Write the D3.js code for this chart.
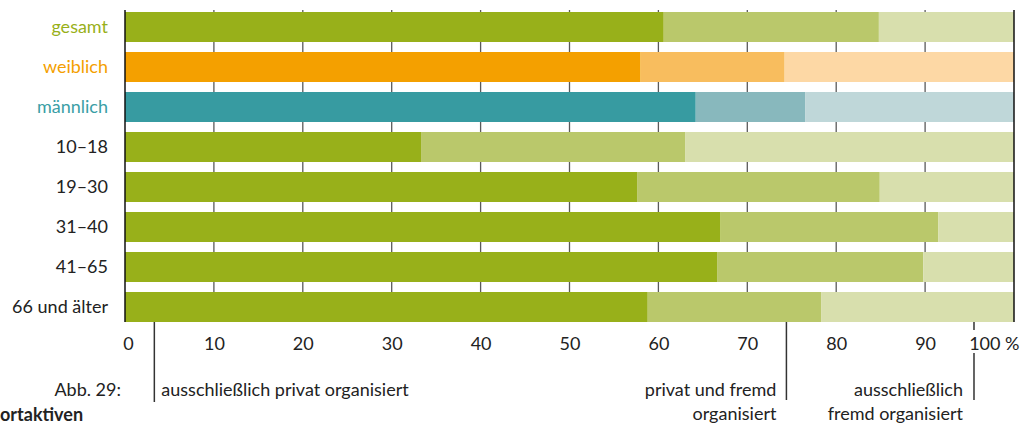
<!DOCTYPE html>
<html>
<head>
<meta charset="utf-8">
<script src="https://cdn.jsdelivr.net/npm/d3@7"></script>
<style>
  html, body { margin: 0; padding: 0; background: #fff; overflow: hidden; }
  svg { display: block; }
  text { font-family: "Lato", "Open Sans", sans-serif; }
</style>
</head>
<body>
<svg id="chart" width="1022" height="424"></svg>
<script>
// ---- data ----
const categories = ["gesamt", "weiblich", "männlich", "10–18", "19–30", "31–40", "41–65", "66 und älter"];
const privatOnly   = [60.6, 58.0, 64.2, 33.3, 57.6, 67.0, 66.6, 58.8];
const privatFremd  = [24.2, 16.2, 12.3, 29.7, 27.3, 24.5, 23.2, 19.5];
const fremdOnly    = [15.2, 25.8, 23.5, 37.0, 15.1,  8.5, 10.2, 21.7];
const tickValues   = [0, 10, 20, 30, 40, 50, 60, 70, 80, 90, 100];
const tickLabels   = ["0", "10", "20", "30", "40", "50", "60", "70", "80", "90", "100 %"];
const seriesNames  = ["ausschließlich privat organisiert", "privat und fremd organisiert", "ausschließlich fremd organisiert"];

// ---- styles ----
const palettes = {
  green:  ["#98b01a", "#bac86b", "#d8dfad"],
  orange: ["#f4a000", "#f8bd5e", "#fdd8a5"],
  teal:   ["#379ba1", "#88b8bd", "#bfd7d9"]
};
const labelColors = { "gesamt": "#98b01a", "weiblich": "#f4a000", "männlich": "#3a9ea5" };
const paletteFor = c => c === "weiblich" ? palettes.orange : (c === "männlich" ? palettes.teal : palettes.green);
const FS = 18;

const svg = d3.select("#chart");
const x = d3.scaleLinear().domain([0, 100]).range([125, 1014]);
const y = d3.scaleBand().domain(categories).range([7, 327]).paddingInner(0.25).paddingOuter(0.125);

// gridlines
svg.append("g").selectAll("line")
  .data(tickValues.filter(v => v > 0 && v < 100))
  .join("line")
  .attr("x1", d => x(d)).attr("x2", d => x(d))
  .attr("y1", 10).attr("y2", 322)
  .attr("stroke", "#5a5a5a").attr("stroke-width", 1.3);

// stacked data
const rows = categories.map((c, i) => ({ cat: c, vals: [privatOnly[i], privatFremd[i], fremdOnly[i]] }));
const segs = [];
rows.forEach(r => {
  let acc = 0;
  r.vals.forEach((v, k) => {
    segs.push({ cat: r.cat, k, x0: acc, x1: acc + v });
    acc += v;
  });
});

svg.append("g").selectAll("rect")
  .data(segs)
  .join("rect")
  .attr("x", d => x(d.x0))
  .attr("width", d => Math.max(0, x(Math.min(100, d.x1)) - x(d.x0)))
  .attr("y", d => y(d.cat))
  .attr("height", y.bandwidth())
  .attr("fill", d => paletteFor(d.cat)[d.k]);

// left and right frame lines
svg.append("line").attr("x1", x(0)).attr("x2", x(0)).attr("y1", 10).attr("y2", 322)
  .attr("stroke", "#111").attr("stroke-width", 1.5);
svg.append("line").attr("x1", x(100)).attr("x2", x(100)).attr("y1", 10).attr("y2", 322)
  .attr("stroke", "#111").attr("stroke-width", 1.5);

// category labels
svg.append("g").selectAll("text")
  .data(categories)
  .join("text")
  .attr("x", 108)
  .attr("y", d => y(d) + y.bandwidth() / 2)
  .attr("dy", "0.35em")
  .attr("text-anchor", "end")
  .attr("font-size", FS)
  .attr("fill", d => labelColors[d] || "#222")
  .text(d => d);

// x axis labels
const axis = d3.axisBottom(x).tickValues(tickValues)
  .tickFormat((d, i) => tickLabels[i]).tickSize(0).tickPadding(0);
const ax = svg.append("g").attr("transform", "translate(0,332)").call(axis);
ax.select(".domain").remove();
ax.selectAll("text")
  .attr("font-family", "Lato, 'Open Sans', sans-serif")
  .attr("font-size", FS).attr("fill", "#222").attr("dy", "0.98em")
  .attr("text-anchor", d => d === 100 ? "end" : "middle")
  .attr("dx", d => d === 100 ? 5 : (d === 0 ? 3 : 0));

// bracket lines below axis
const brackets = [
  { v: 3.3,  y1: 322, y2: 402 },
  { v: 74.4, y1: 322, y2: 400 },
  { v: 95.5, y1: 322, y2: 400, gap: [330, 353] }
];
brackets.forEach(b => {
  const xx = x(b.v);
  const parts = b.gap ? [[b.y1, b.gap[0]], [b.gap[1], b.y2]] : [[b.y1, b.y2]];
  parts.forEach(p => svg.append("line").attr("x1", xx).attr("x2", xx).attr("y1", p[0]).attr("y2", p[1])
    .attr("stroke", "#333").attr("stroke-width", 1.5));
});

const ann = svg.append("g").attr("font-size", FS).attr("fill", "#222");
ann.append("text").attr("x", x(3.3) + 7).attr("y", 396).text(seriesNames[0]);
ann.append("text").attr("x", x(74.4) - 10).attr("y", 396).attr("text-anchor", "end").text("privat und fremd");
ann.append("text").attr("x", x(74.4) - 10).attr("y", 420).attr("text-anchor", "end").text("organisiert");
ann.append("text").attr("x", x(95.5) - 11).attr("y", 396).attr("text-anchor", "end").text("ausschließlich");
ann.append("text").attr("x", x(95.5) - 11).attr("y", 420).attr("text-anchor", "end").text("fremd organisiert");

// caption fragment (as visible in the reference)
svg.append("text").attr("x", 121).attr("y", 396).attr("text-anchor", "end")
  .attr("font-size", FS).attr("fill", "#222").text("Abb. 29:");
svg.append("text").attr("x", 0).attr("y", 421)
  .attr("font-size", FS).attr("font-weight", "bold").attr("fill", "#222").text("ortaktiven");
</script>
</body>
</html>
